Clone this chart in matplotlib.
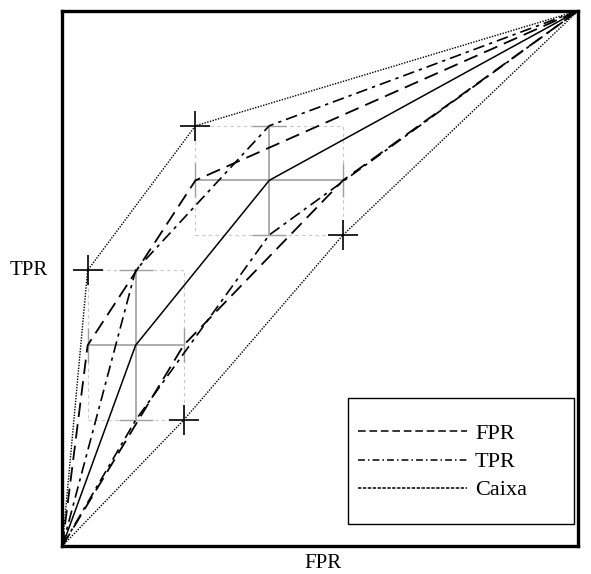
import numpy as np
import matplotlib.pyplot as plt
from matplotlib.patches import Rectangle
from matplotlib.lines import Line2D

plt.rcParams['font.family'] = ['Liberation Serif', 'DejaVu Serif']

# ROC points with uncertainty box (half widths)
fpr = [0.142, 0.401]
tpr = [0.375, 0.683]
fpr_err = [0.093, 0.143]
tpr_err = [0.140, 0.102]

legend_labels = ['FPR', 'TPR', 'Caixa']

fpr = np.array(fpr)
tpr = np.array(tpr)
fpr_err = np.array(fpr_err)
tpr_err = np.array(tpr_err)

fig = plt.figure(figsize=(5.91, 5.74), dpi=100)
ax = fig.add_axes([0.1055, 0.0488, 0.873, 0.9326])

def curve(xs, ys, **kw):
    ax.plot(np.r_[0, xs, 1], np.r_[0, ys, 1], color='black', **kw)

# boxes and crosses
for i in range(len(fpr)):
    ax.add_patch(Rectangle((fpr[i] - fpr_err[i], tpr[i] - tpr_err[i]),
                           2 * fpr_err[i], 2 * tpr_err[i], fill=False,
                           edgecolor='#c8c8c8', lw=0.8, ls=(0, (3, 3)), zorder=1))
ax.errorbar(fpr, tpr, xerr=fpr_err, yerr=tpr_err, fmt='none', ecolor='#a0a0a0',
            elinewidth=1.2, capsize=12, capthick=1.0, zorder=2)

# ROC curve
curve(fpr, tpr, lw=1.1, zorder=3)
# FPR variation
curve(fpr - fpr_err, tpr, lw=1.3, ls=(0, (8, 4)), zorder=3)
curve(fpr + fpr_err, tpr, lw=1.3, ls=(0, (8, 4)), zorder=3)
# TPR variation
curve(fpr, tpr + tpr_err, lw=1.2, ls=(0, (7, 3, 2, 3)), zorder=3)
curve(fpr, tpr - tpr_err, lw=1.2, ls=(0, (7, 3, 2, 3)), zorder=3)
# box corners
curve(fpr - fpr_err, tpr + tpr_err, lw=1.0, ls=(0, (1, 1)), zorder=3)
curve(fpr + fpr_err, tpr - tpr_err, lw=1.0, ls=(0, (1, 1)), zorder=3)
ax.plot(fpr - fpr_err, tpr + tpr_err, '+', color='black', ms=22, mew=1.2, zorder=4)
ax.plot(fpr + fpr_err, tpr - tpr_err, '+', color='black', ms=22, mew=1.2, zorder=4)

ax.set_xlim(0, 1)
ax.set_ylim(0, 1)
ax.set_xticks([])
ax.set_yticks([])
for s in ax.spines.values():
    s.set_linewidth(2.4)
ax.set_xlabel('FPR', fontsize=15)
ax.set_ylabel('TPR', fontsize=15, rotation=0, ha='right', va='center')
ax.xaxis.set_label_coords(0.506, -0.015, transform=ax.transAxes)
ax.xaxis.label.set_va('top')
ax.yaxis.set_label_coords(-0.029, 0.515)

# legend with its own frame
ax.add_patch(Rectangle((0.554, 0.041), 0.438, 0.235, transform=ax.transAxes,
                       fill=False, edgecolor='black', lw=1.0, zorder=5))
handles = [Line2D([], [], color='black', lw=1.1, ls=(0, (5, 2.5))),
           Line2D([], [], color='black', lw=1.1, ls=(0, (4.5, 2, 1, 2))),
           Line2D([], [], color='black', lw=1.1, ls=(0, (2.2, 1)))]
leg = ax.legend(handles, legend_labels, loc='center left', bbox_to_anchor=(0.5736, 0.1567),
                fontsize=16, handlelength=4.9, handletextpad=0.35, frameon=False,
                borderpad=0, borderaxespad=0, labelspacing=0.34)

fig.savefig('out.png', dpi=100)
